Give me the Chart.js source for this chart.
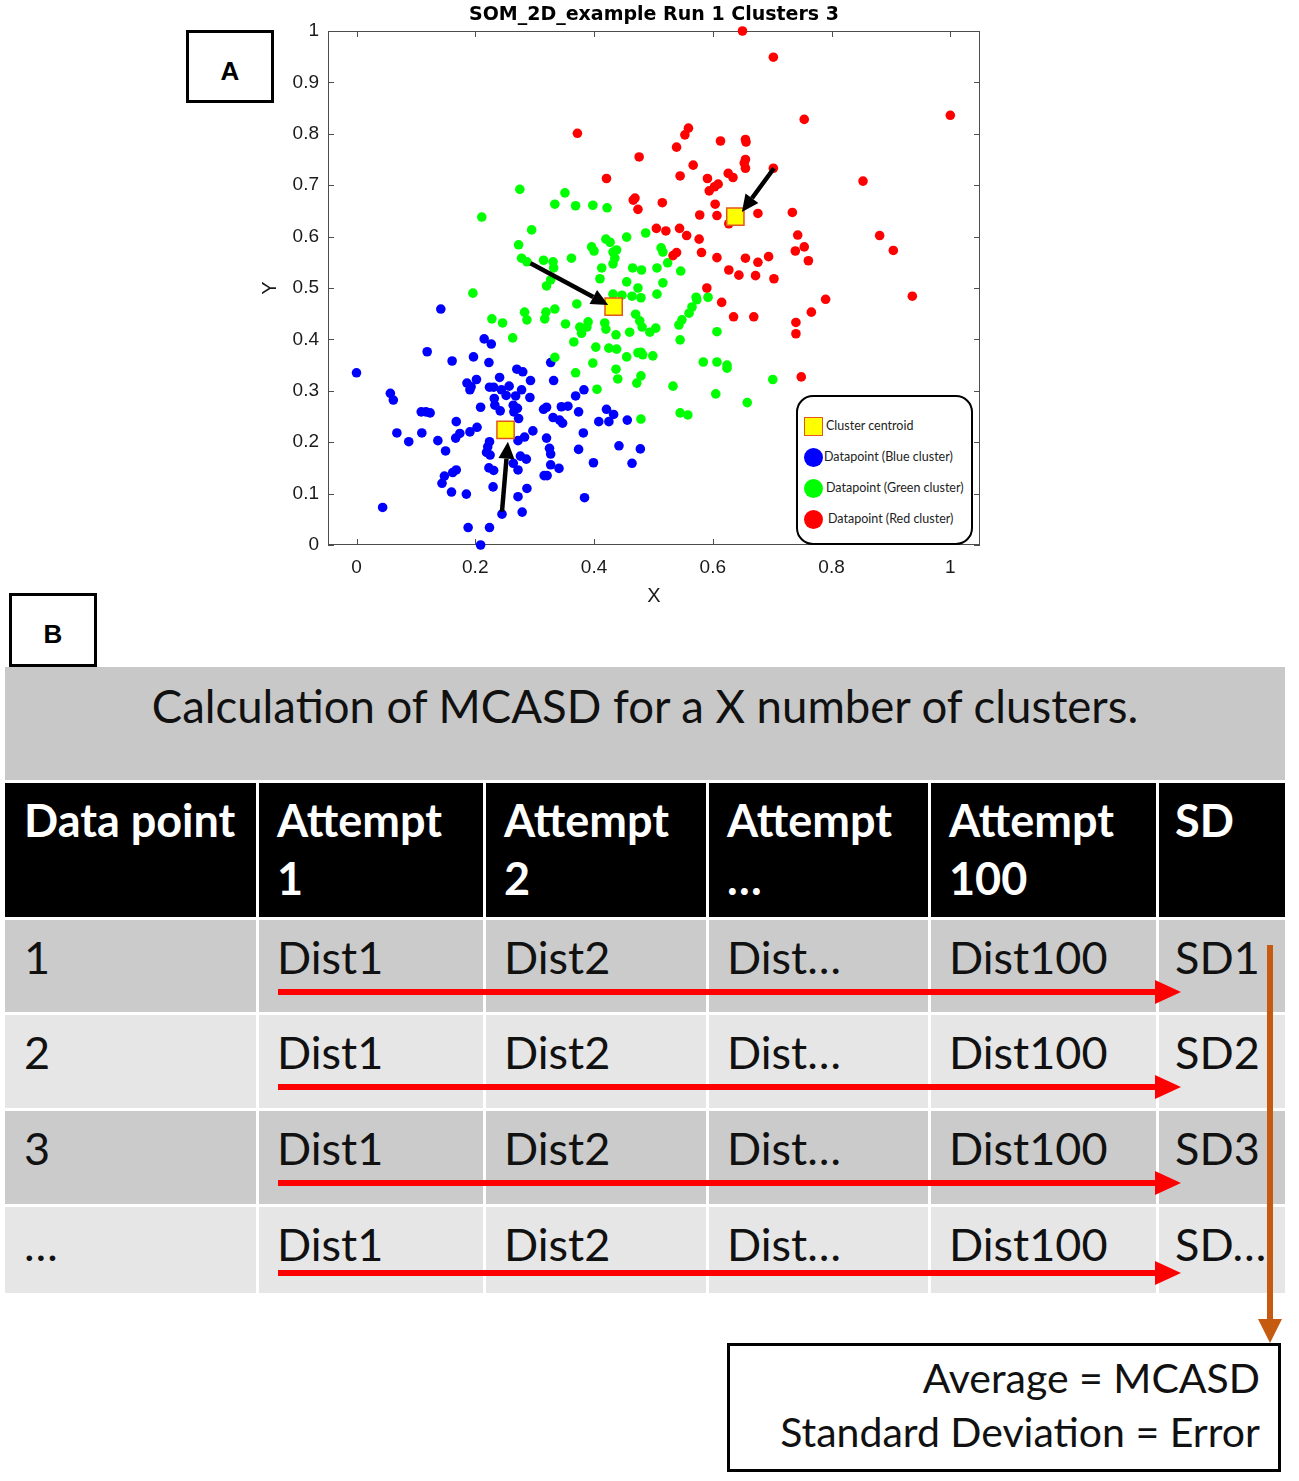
<!DOCTYPE html>
<html>
<head>
<meta charset="utf-8">
<script src="https://cdn.jsdelivr.net/npm/chart.js@4.4.1/dist/chart.umd.min.js"></script>
<style>
  html, body { margin:0; padding:0; background:#fff; }
  body { position:relative; width:1299px; height:1481px; overflow:hidden; }
  #chartBox { position:absolute; left:240px; top:0; width:828px; height:610px; }
  .panelLabel { position:absolute; box-sizing:border-box; border:3px solid #000; background:#fff;
    font-family:"Liberation Sans", Arial, sans-serif; font-weight:bold; font-size:26px;
    display:flex; align-items:center; justify-content:center; color:#000; padding-top:9px; }
  #legend { position:absolute; left:796px; top:395px; width:177px; height:150px; box-sizing:border-box;
    border:2px solid #000; border-radius:17px; background:#fff; }
  .lgItem { position:absolute; left:0; height:20px; font-family:Lato, "Open Sans", sans-serif; font-size:12.5px; color:#222;
    white-space:nowrap; line-height:20px; }
  .lgMark { position:absolute; box-sizing:border-box; }
  #titleBar { position:absolute; left:5px; top:667px; width:1280px; height:113px; background:#c8c8c8;
    font-family:Lato, sans-serif; font-size:45.5px; line-height:58px; text-align:center; padding-top:10px; box-sizing:border-box; color:#111; }
  .cell { position:absolute; box-sizing:border-box; font-family:Lato, sans-serif; font-size:45px; line-height:58px;
    padding:8px 0 0 18px; white-space:pre; color:#111; overflow:visible; }
  .hdr { background:#000; color:#fff; font-weight:bold; }
  .dark { background:#cbcbcb; }
  .light { background:#e6e6e6; }
  #resultBox { position:absolute; left:727px; top:1343px; width:554px; height:129px; box-sizing:border-box;
    border:3px solid #000; font-family:Lato, sans-serif; font-size:41px; line-height:54px; text-align:right;
    padding:5px 18px 0 0; color:#111; background:#fff; }
  #arrows { position:absolute; left:0; top:0; }
</style>
</head>
<body>
<div id="chartBox"><canvas id="c"></canvas></div>
<div class="panelLabel" style="left:186px;top:30px;width:88px;height:73px;">A</div>
<div id="legend"></div>

<div class="panelLabel" style="left:9px;top:593px;width:88px;height:74px;">B</div>
<div id="titleBar"></div>
<div id="table"></div>
<div id="resultBox"></div>
<svg id="arrows" width="1299" height="1481"></svg>

<script>
// ---------------- Panel A data ----------------
const chartTitle = 'SOM_2D_example Run 1 Clusters 3';
const xTicks = [0, 0.2, 0.4, 0.6, 0.8, 1];
const xTickLabels = ['0', '0.2', '0.4', '0.6', '0.8', '1'];
const yTicks = [0, 0.1, 0.2, 0.3, 0.4, 0.5, 0.6, 0.7, 0.8, 0.9, 1];
const yTickLabels = ['0', '0.1', '0.2', '0.3', '0.4', '0.5', '0.6', '0.7', '0.8', '0.9', '1'];

const blueXY = [
[0.142,0.459],[0.000,0.335],[0.119,0.376],[0.215,0.401],[0.227,0.391],[0.161,0.358],[0.197,0.366],[0.223,0.355],
[0.327,0.355],[0.270,0.342],[0.280,0.337],[0.293,0.320],[0.241,0.326],[0.186,0.315],[0.193,0.308],[0.202,0.322],
[0.191,0.302],[0.224,0.307],[0.231,0.307],[0.244,0.302],[0.257,0.309],[0.252,0.291],[0.268,0.290],[0.278,0.302],
[0.271,0.266],[0.264,0.272],[0.265,0.259],[0.292,0.287],[0.332,0.320],[0.057,0.295],[0.062,0.282],[0.209,0.268],
[0.232,0.285],[0.233,0.272],[0.242,0.261],[0.273,0.246],[0.315,0.264],[0.320,0.268],[0.345,0.269],[0.356,0.270],
[0.369,0.290],[0.383,0.302],[0.331,0.248],[0.342,0.243],[0.347,0.237],[0.374,0.259],[0.421,0.264],[0.433,0.254],
[0.408,0.240],[0.425,0.240],[0.456,0.243],[0.109,0.259],[0.117,0.259],[0.124,0.257],[0.168,0.240],[0.068,0.218],
[0.110,0.218],[0.088,0.201],[0.137,0.203],[0.150,0.183],[0.167,0.208],[0.174,0.217],[0.191,0.220],[0.203,0.229],
[0.224,0.201],[0.221,0.191],[0.219,0.180],[0.225,0.175],[0.272,0.203],[0.283,0.210],[0.297,0.222],[0.320,0.208],
[0.325,0.188],[0.327,0.177],[0.276,0.173],[0.286,0.167],[0.264,0.159],[0.272,0.146],[0.223,0.150],[0.231,0.145],
[0.327,0.156],[0.341,0.149],[0.316,0.135],[0.321,0.135],[0.382,0.218],[0.374,0.186],[0.399,0.160],[0.442,0.193],
[0.464,0.159],[0.478,0.187],[0.168,0.146],[0.162,0.141],[0.148,0.134],[0.144,0.120],[0.160,0.103],[0.185,0.099],
[0.230,0.113],[0.287,0.110],[0.272,0.094],[0.384,0.092],[0.044,0.073],[0.245,0.060],[0.279,0.064],[0.188,0.034],
[0.224,0.034],[0.209,0.000]
];

const greenXY = [
[0.275,0.692],[0.351,0.685],[0.334,0.663],[0.369,0.660],[0.398,0.661],[0.422,0.656],[0.211,0.638],[0.295,0.613],
[0.273,0.584],[0.278,0.558],[0.287,0.551],[0.315,0.554],[0.331,0.551],[0.332,0.539],[0.327,0.516],[0.320,0.504],
[0.362,0.558],[0.396,0.580],[0.400,0.572],[0.420,0.595],[0.427,0.589],[0.455,0.599],[0.487,0.607],[0.432,0.570],
[0.438,0.574],[0.435,0.558],[0.432,0.547],[0.413,0.539],[0.410,0.518],[0.455,0.512],[0.465,0.539],[0.480,0.535],
[0.474,0.500],[0.506,0.539],[0.513,0.578],[0.516,0.570],[0.524,0.549],[0.546,0.533],[0.516,0.510],[0.506,0.488],
[0.464,0.484],[0.479,0.481],[0.432,0.488],[0.447,0.486],[0.572,0.482],[0.592,0.482],[0.196,0.490],[0.371,0.469],
[0.228,0.440],[0.246,0.432],[0.263,0.403],[0.283,0.453],[0.287,0.438],[0.319,0.453],[0.317,0.440],[0.334,0.459],
[0.352,0.430],[0.376,0.424],[0.379,0.412],[0.390,0.434],[0.388,0.424],[0.366,0.395],[0.398,0.354],[0.403,0.385],
[0.418,0.432],[0.420,0.420],[0.425,0.383],[0.438,0.381],[0.437,0.409],[0.460,0.414],[0.470,0.449],[0.477,0.436],
[0.481,0.424],[0.494,0.414],[0.504,0.422],[0.455,0.366],[0.474,0.374],[0.479,0.375],[0.482,0.370],[0.499,0.368],
[0.369,0.335],[0.405,0.303],[0.437,0.342],[0.440,0.323],[0.472,0.315],[0.479,0.329],[0.479,0.245],[0.533,0.309],
[0.545,0.257],[0.558,0.253],[0.584,0.356],[0.607,0.356],[0.624,0.350],[0.624,0.344],[0.605,0.294],[0.545,0.399],
[0.607,0.415],[0.543,0.428],[0.548,0.438],[0.560,0.451],[0.565,0.463],[0.573,0.477],[0.334,0.365],[0.701,0.322],
[0.658,0.277]
];

const redXY = [
[0.650,1.000],[0.702,0.949],[1.000,0.836],[0.754,0.828],[0.372,0.801],[0.559,0.811],[0.553,0.798],[0.613,0.786],
[0.655,0.789],[0.656,0.784],[0.539,0.774],[0.476,0.755],[0.567,0.739],[0.655,0.750],[0.653,0.743],[0.655,0.733],
[0.702,0.733],[0.545,0.718],[0.421,0.713],[0.591,0.713],[0.626,0.723],[0.634,0.715],[0.609,0.702],[0.603,0.697],
[0.594,0.689],[0.853,0.708],[0.469,0.675],[0.466,0.671],[0.474,0.653],[0.515,0.666],[0.604,0.663],[0.578,0.642],
[0.607,0.641],[0.627,0.625],[0.676,0.645],[0.734,0.647],[0.505,0.616],[0.521,0.611],[0.544,0.616],[0.556,0.602],
[0.577,0.595],[0.743,0.603],[0.881,0.602],[0.754,0.580],[0.739,0.572],[0.904,0.573],[0.761,0.553],[0.539,0.569],
[0.533,0.563],[0.581,0.569],[0.607,0.559],[0.655,0.558],[0.676,0.550],[0.694,0.561],[0.627,0.535],[0.644,0.525],
[0.672,0.524],[0.703,0.518],[0.590,0.500],[0.615,0.472],[0.790,0.478],[0.936,0.484],[0.635,0.444],[0.669,0.444],
[0.740,0.433],[0.740,0.411],[0.766,0.453],[0.749,0.327]
];

const centroidXY = [[0.251,0.224],[0.433,0.464],[0.638,0.639]];
const arrowFrom = [[0.245,0.065],[0.293,0.548],[0.703,0.733]];
const arrowTo   = [[0.255,0.201],[0.424,0.467],[0.649,0.648]];

const legendLabels = ['Cluster centroid', 'Datapoint (Blue cluster)', 'Datapoint (Green cluster)', 'Datapoint (Red cluster)'];

// ---------------- Panel B data ----------------
const tableTitle = 'Calculation of MCASD for a X number of clusters.';
const tableHeader = ['Data point', 'Attempt\n1', 'Attempt\n2', 'Attempt\n…', 'Attempt\n100', 'SD'];
const tableRows = [
  ['1', 'Dist1', 'Dist2', 'Dist…', 'Dist100', 'SD1'],
  ['2', 'Dist1', 'Dist2', 'Dist…', 'Dist100', 'SD2'],
  ['3', 'Dist1', 'Dist2', 'Dist…', 'Dist100', 'SD3'],
  ['…', 'Dist1', 'Dist2', 'Dist…', 'Dist100', 'SD…']
];
const resultLines = ['Average = MCASD', 'Standard Deviation = Error'];

// ---------------- Panel A chart ----------------
const toPts = arr => arr.map(([x, y]) => ({x, y}));
const tickFont = {family:'"Liberation Sans", Arial, sans-serif', size:19};

const framePlugin = {
  id: 'frame',
  beforeDatasetsDraw(chart) {
    const {ctx, chartArea: a, scales: {x, y}} = chart;
    ctx.save();
    ctx.strokeStyle = '#4d4d4d';
    ctx.lineWidth = 1;
    ctx.strokeRect(a.left + 0.5, a.top + 0.5, a.right - a.left - 1, a.bottom - a.top - 1);
    ctx.beginPath();
    const tl = 6;
    xTicks.forEach(v => {
      const px = Math.round(x.getPixelForValue(v)) + 0.5;
      ctx.moveTo(px, a.bottom); ctx.lineTo(px, a.bottom - tl);
      ctx.moveTo(px, a.top); ctx.lineTo(px, a.top + tl);
    });
    yTicks.forEach(v => {
      const py = Math.round(y.getPixelForValue(v)) + 0.5;
      ctx.moveTo(a.left, py); ctx.lineTo(a.left + tl, py);
      ctx.moveTo(a.right, py); ctx.lineTo(a.right - tl, py);
    });
    ctx.stroke();
    ctx.restore();
  },
  afterDatasetsDraw(chart) {
    const {ctx, scales: {x, y}} = chart;
    ctx.save();
    ctx.fillStyle = '#000';
    ctx.strokeStyle = '#000';
    ctx.lineWidth = 4.5;
    arrowFrom.forEach((f, i) => {
      const t = arrowTo[i];
      const x0 = x.getPixelForValue(f[0]), y0 = y.getPixelForValue(f[1]);
      const x1 = x.getPixelForValue(t[0]), y1 = y.getPixelForValue(t[1]);
      const ang = Math.atan2(y1 - y0, x1 - x0);
      const hl = 17, hw = 8;
      const bx = x1 - hl * Math.cos(ang), by = y1 - hl * Math.sin(ang);
      ctx.beginPath();
      ctx.moveTo(x0, y0); ctx.lineTo(bx, by); ctx.stroke();
      ctx.beginPath();
      ctx.moveTo(x1, y1);
      ctx.lineTo(bx - hw * Math.sin(ang), by + hw * Math.cos(ang));
      ctx.lineTo(bx + hw * Math.sin(ang), by - hw * Math.cos(ang));
      ctx.closePath(); ctx.fill();
    });
    ctx.restore();
  }
};

new Chart(document.getElementById('c'), {
  type: 'scatter',
  data: {
    datasets: [
      {label: legendLabels[0], data: toPts(centroidXY), pointStyle: 'rect', pointRadius: 12.2,
       backgroundColor: '#ffff00', borderColor: '#e2571e', borderWidth: 1.5, clip: false},
      {label: legendLabels[3], data: toPts(redXY), pointRadius: 4.8, backgroundColor: '#ff0000', borderWidth: 0, clip: false},
      {label: legendLabels[2], data: toPts(greenXY), pointRadius: 4.8, backgroundColor: '#00ff00', borderWidth: 0, clip: false},
      {label: legendLabels[1], data: toPts(blueXY), pointRadius: 4.8, backgroundColor: '#0000ff', borderWidth: 0, clip: false}
    ]
  },
  options: {
    responsive: true,
    maintainAspectRatio: false,
    animation: false,
    events: [],
    layout: {padding: 0},
    plugins: {
      legend: {display: false},
      tooltip: {enabled: false},
      title: {display: true, text: chartTitle, color: '#000',
        font: {family: '"DejaVu Sans", sans-serif', size: 19, weight: 'bold'},
        padding: {top: 4, bottom: 4.2}}
    },
    scales: {
      x: {
        type: 'linear', position: 'bottom', min: -0.048, max: 1.05,
        afterBuildTicks: s => { s.ticks = xTicks.map(v => ({value: v})); },
        afterFit: s => { s.height = 65; },
        ticks: {callback: (v, i) => xTickLabels[i], color: '#1a1a1a', font: tickFont, padding: 11, maxRotation: 0, autoSkip: false},
        grid: {display: false, drawTicks: false},
        border: {display: false},
        title: {display: true, text: 'X', color: '#1a1a1a', font: {family: tickFont.family, size: 20}, padding: {top: 0, bottom: 2}}
      },
      y: {
        type: 'linear', position: 'left', min: 0, max: 1,
        afterBuildTicks: s => { s.ticks = yTicks.map(v => ({value: v})); },
        afterFit: s => { s.width = 88; },
        ticks: {callback: (v, i) => yTickLabels[i], color: '#1a1a1a', font: tickFont, padding: 9, autoSkip: false},
        grid: {display: false, drawTicks: false},
        border: {display: false},
        title: {display: true, text: 'Y', color: '#1a1a1a', font: {family: tickFont.family, size: 20}, padding: {top: 18, bottom: 0}}
      },
      yR: {
        type: 'linear', position: 'right', min: 0, max: 1, display: true,
        ticks: {display: false}, grid: {display: false, drawTicks: false}, border: {display: false},
        afterFit: s => { s.width = 88; }
      }
    }
  },
  plugins: [framePlugin]
});

// ---------------- Legend (HTML) ----------------
(function () {
  const lg = document.getElementById('legend');
  const colors = [null, '#0000ff', '#00ff00', '#ff0000'];
  const centers = [31, 62, 93, 124];   // relative to legend box top
  const textLeft = [28, 26, 28, 30];
  legendLabels.forEach((lab, i) => {
    const m = document.createElement('div');
    m.className = 'lgMark';
    if (i === 0) {
      Object.assign(m.style, {left: '6px', top: (centers[i] - 11) + 'px', width: '19px', height: '19px',
        background: '#ffff00', border: '1.5px solid #e2571e'});
    } else {
      Object.assign(m.style, {left: '6px', top: (centers[i] - 11) + 'px', width: '19px', height: '19px',
        background: colors[i], borderRadius: '50%'});
    }
    lg.appendChild(m);
    const t = document.createElement('div');
    t.className = 'lgItem';
    t.style.left = textLeft[i] + 'px';
    t.style.top = (centers[i] - 12) + 'px';
    t.textContent = lab;
    lg.appendChild(t);
  });
})();

// ---------------- Panel B table (HTML) ----------------
document.getElementById('titleBar').textContent = tableTitle;
(function () {
  const tb = document.getElementById('table');
  const colL = [5, 259, 486, 709, 931, 1159];
  const colR = [256, 483, 706, 928, 1156, 1285];
  const rowT = [783, 920, 1015, 1111, 1207];
  const rowB = [917, 1012, 1108, 1204, 1293];
  const rows = [tableHeader].concat(tableRows);
  rows.forEach((r, ri) => {
    r.forEach((txt, ci) => {
      const d = document.createElement('div');
      d.className = 'cell ' + (ri === 0 ? 'hdr' : (ri % 2 === 1 ? 'dark' : 'light'));
      Object.assign(d.style, {left: colL[ci] + 'px', top: rowT[ri] + 'px',
        width: (colR[ci] - colL[ci]) + 'px', height: (rowB[ri] - rowT[ri]) + 'px'});
      if (ci === 0) d.style.paddingLeft = '19px';
      if (ci === 5) d.style.paddingLeft = '16px';
      d.textContent = txt;
      tb.appendChild(d);
    });
  });
  document.getElementById('resultBox').textContent = resultLines.join('\n');
  document.getElementById('resultBox').style.whiteSpace = 'pre';

  // arrows
  const svg = document.getElementById('arrows');
  const NS = 'http://www.w3.org/2000/svg';
  const rowArrowY = [992, 1087, 1183, 1273];
  rowArrowY.forEach(y => {
    const l = document.createElementNS(NS, 'line');
    l.setAttribute('x1', 278); l.setAttribute('x2', 1157); l.setAttribute('y1', y); l.setAttribute('y2', y);
    l.setAttribute('stroke', '#ff0000'); l.setAttribute('stroke-width', 6);
    svg.appendChild(l);
    const p = document.createElementNS(NS, 'polygon');
    p.setAttribute('points', `1155,${y - 12} 1181,${y} 1155,${y + 12}`);
    p.setAttribute('fill', '#ff0000');
    svg.appendChild(p);
  });
  const bl = document.createElementNS(NS, 'line');
  bl.setAttribute('x1', 1270); bl.setAttribute('x2', 1270); bl.setAttribute('y1', 945); bl.setAttribute('y2', 1322);
  bl.setAttribute('stroke', '#c55a11'); bl.setAttribute('stroke-width', 6);
  svg.appendChild(bl);
  const bp = document.createElementNS(NS, 'polygon');
  bp.setAttribute('points', '1258,1319 1282,1319 1270,1343');
  bp.setAttribute('fill', '#c55a11');
  svg.appendChild(bp);
})();
</script>
</body>
</html>
